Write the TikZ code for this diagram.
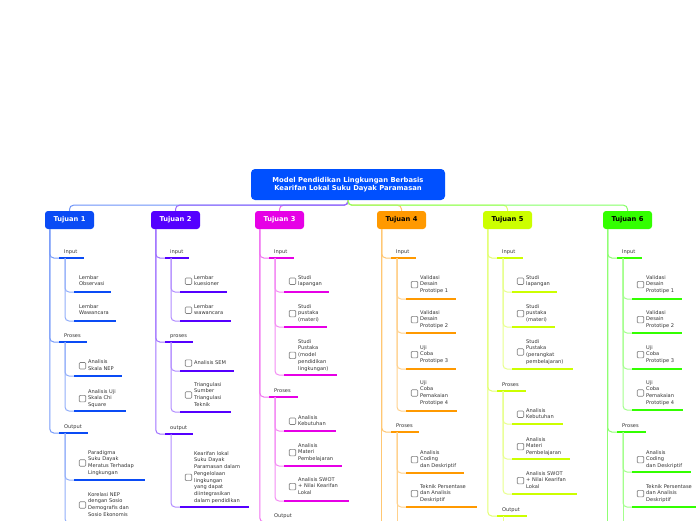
\documentclass[tikz,border=0pt]{standalone}
\usepackage{fontspec}
\newfontfamily\dv{DejaVu Sans}
\definecolor{c1}{HTML}{0A4BF5}
\definecolor{c2}{HTML}{5500FF}
\definecolor{c3}{HTML}{E600E6}
\definecolor{c4}{HTML}{FF9900}
\definecolor{c5}{HTML}{CCFF00}
\definecolor{c6}{HTML}{33FF00}
\definecolor{rootc}{HTML}{0050FF}
\definecolor{txt}{HTML}{333333}
\tikzset{
  vl/.style={draw=#1!55!white, line width=1pt, rounded corners=4pt},
  sl/.style={draw=#1!45!white, line width=1pt, rounded corners=4pt},
  topl/.style={draw=#1!60!white, line width=1pt, rounded corners=4pt},
  ul/.style={draw=#1, line width=2.6pt},
  lbl/.style={font=\dv\fontsize{5.1}{6.7}\selectfont, anchor=north west, yshift=2.85pt,
    inner sep=0pt, align=left, text=txt,
    execute at begin node={\rule{0pt}{4.3pt}},
    execute at end node={\rule[-1.3pt]{0pt}{1.3pt}}},
  cb/.style={draw=gray, line width=0.6pt, fill=white, rounded corners=1pt,
    minimum size=6.5pt, inner sep=0pt},
  tuj/.style={fill=#1, rounded corners=3pt, minimum width=49pt, minimum height=18pt,
    inner sep=0pt, font=\dv\bfseries\fontsize{6.7}{7.5}\selectfont},
  rootbox/.style={fill=rootc, rounded corners=4pt, minimum width=194pt, minimum height=31pt,
    inner sep=0pt, align=center, text=white, font=\dv\bfseries\fontsize{6.8}{8.3}\selectfont},
}
% group label: name, parent, L, ul y, ul xend, colour, text
\newcommand\grp[7]{%
  \coordinate (#1a) at (#3+14,#4);
  \coordinate (#1b) at (#5,#4);
  \draw[vl=#6] (#2) |- (#1a);
  \draw[ul=#6] (#1a) -- (#1b);
  \node[lbl] (#1t) at (#3+19,#4-6) {#7};
  \coordinate (#1v) at (#3+20,#4);
}
% item with checkbox: name, parent, L, first line y, ul y, ul xend, colour, text
\newcommand\itm[8]{%
  \coordinate (#1a) at (#3+29,#5);
  \coordinate (#1b) at (#6,#5);
  \draw[sl=#7] (#2) |- (#1a);
  \draw[ul=#7] (#1a) -- (#1b);
  \node[lbl] (#1t) at (#3+43,#4) {#8};
  \coordinate (#1x) at (#3+37.5,0);
  \node[cb] (#1c) at (#1x |- #1t.west) {};
}
% item without checkbox
\newcommand\itmn[8]{%
  \coordinate (#1a) at (#3+29,#5);
  \coordinate (#1b) at (#6,#5);
  \draw[sl=#7] (#2) |- (#1a);
  \draw[ul=#7] (#1a) -- (#1b);
  \node[lbl] (#1t) at (#3+34,#4) {#8};
}
\begin{document}
\begin{tikzpicture}[x=1pt,y=-1pt]
\useasboundingbox (0,0) rectangle (696,520);
\fill[white] (0,0) rectangle (696,520);
\clip (0,0) rectangle (696,520);
\coordinate (bot) at (0,540);

\node[rootbox] (root) at (348,184.5) {Model Pendidikan Lingkungan Berbasis\\ Kearifan Lokal Suku Dayak Paramasan};

\node[tuj=c1, text=white] (t1) at (69.5,220) {Tujuan 1};
\node[tuj=c2, text=white] (t2) at (175.5,220) {Tujuan 2};
\node[tuj=c3, text=white] (t3) at (279.5,220) {Tujuan 3};
\node[tuj=c4, text=black] (t4) at (401.5,220) {Tujuan 4};
\node[tuj=c5, text=black] (t5) at (507.5,220) {Tujuan 5};
\node[tuj=c6, text=black] (t6) at (627.5,220) {Tujuan 6};

\draw[topl=c3] (root.south) -- ++(0,5) -| (t3.north);
\draw[topl=c1] (root.south) -- ++(0,5) -| (t1.north);
\draw[topl=c2] (root.south) -- ++(0,5) -| (t2.north);
\draw[topl=c4] (root.south) -- ++(0,5) -| (t4.north);
\draw[topl=c5] (root.south) -- ++(0,5) -| (t5.north);
\draw[topl=c6] (root.south) -- ++(0,5) -| (t6.north);

\foreach \t in {1,...,6} {\coordinate (t\t v) at ([xshift=5pt]t\t.south west);}

% ---------- Tujuan 1
\grp{a1}{t1v}{45}{258}{84}{c1}{Input}
\itmn{a1i1}{a1v}{45}{278}{292}{111}{c1}{Lembar\\Observasi}
\itmn{a1i2}{a1v}{45}{307}{321}{116}{c1}{Lembar\\Wawancara}
\grp{a2}{t1v}{45}{342}{87}{c1}{Proses}
\itm{a2i1}{a2v}{45}{362.5}{376}{122}{c1}{Analisis\\Skala NEP}
\itm{a2i2}{a2v}{45}{392}{411}{126}{c1}{Analisis Uji\\Skala Chi\\Square}
\grp{a3}{t1v}{45}{433}{88}{c1}{Output}
\itm{a3i1}{a3v}{45}{453}{480}{145}{c1}{Paradigma\\Suku Dayak\\Meratus Terhadap\\Lingkungan}
\itm{a3i2}{a3v}{45}{495}{523}{140}{c1}{Korelasi NEP\\dengan Sosio\\Demografis dan\\Sosio Ekonomis}

% ---------- Tujuan 2
\grp{b1}{t2v}{151}{258}{189}{c2}{input}
\itm{b1i1}{b1v}{151}{278}{292}{227}{c2}{Lembar\\kuesioner}
\itm{b1i2}{b1v}{151}{307}{321}{231}{c2}{Lembar\\wawancara}
\grp{b2}{t2v}{151}{342}{193}{c2}{proses}
\itm{b2i1}{b2v}{151}{363}{371}{234}{c2}{Analisis SEM}
\itm{b2i2}{b2v}{151}{385}{412}{231}{c2}{Triangulasi\\Sumber\\Triangulasi\\Teknik}
\grp{b3}{t2v}{151}{434}{193}{c2}{output}
\itm{b3i1}{b3v}{151}{454}{507}{249}{c2}{Kearifan lokal\\Suku Dayak\\Paramasan dalam\\Pengelolaan\\lingkungan\\yang dapat\\diintegrasikan\\dalam pendidikan}

% ---------- Tujuan 3
\grp{c1g}{t3v}{255}{258}{294}{c3}{Input}
\itm{c1i1}{c1gv}{255}{278}{292}{329}{c3}{Studi\\lapangan}
\itm{c1i2}{c1gv}{255}{307}{327}{327}{c3}{Studi\\pustaka\\(materi)}
\itm{c1i3}{c1gv}{255}{342}{375}{337}{c3}{Studi\\Pustaka\\(model\\pendidikan\\lingkungan)}
\grp{c2g}{t3v}{255}{397}{298}{c3}{Proses}
\itm{c2i1}{c2gv}{255}{418}{431}{336}{c3}{Analisis\\Kebutuhan}
\itm{c2i2}{c2gv}{255}{446}{466}{342}{c3}{Analisis\\Materi\\Pembelajaran}
\itm{c2i3}{c2gv}{255}{480}{501}{349}{c3}{Analisis SWOT\\+ Nilai Kearifan\\Lokal}
\grp{c3g}{t3v}{255}{522}{298}{c3}{Output}

% ---------- Tujuan 4
\grp{d1}{t4v}{377}{258}{416}{c4}{Input}
\itm{d1i1}{d1v}{377}{278}{299}{456}{c4}{Validasi\\Desain\\Prototipe 1}
\itm{d1i2}{d1v}{377}{313}{333}{456}{c4}{Validasi\\Desain\\Prototipe 2}
\itm{d1i3}{d1v}{377}{348}{369}{456}{c4}{Uji\\Coba\\Prototipe 3}
\itm{d1i4}{d1v}{377}{383}{411}{457}{c4}{Uji\\Coba\\Pemakaian\\Prototipe 4}
\grp{d2}{t4v}{377}{432}{419}{c4}{Proses}
\itm{d2i1}{d2v}{377}{453}{473}{464}{c4}{Analisis\\Coding\\dan Deskriptif}
\itm{d2i2}{d2v}{377}{487}{507}{477}{c4}{Teknik Persentase\\dan Analisis\\Deskriptif}
\draw[vl=c4] (t4v) -- (t4v |- bot);
\draw[sl=c4] (d2v) -- (d2v |- bot);

% ---------- Tujuan 5
\grp{e1}{t5v}{483}{258}{523}{c5}{Input}
\itm{e1i1}{e1v}{483}{278}{292}{557}{c5}{Studi\\lapangan}
\itm{e1i2}{e1v}{483}{307}{327}{555}{c5}{Studi\\pustaka\\(materi)}
\itm{e1i3}{e1v}{483}{342}{369}{573}{c5}{Studi\\Pustaka\\(perangkat\\pembelajaran)}
\grp{e2}{t5v}{483}{391}{526}{c5}{Proses}
\itm{e2i1}{e2v}{483}{411}{424}{563}{c5}{Analisis\\Kebutuhan}
\itm{e2i2}{e2v}{483}{440}{459}{570}{c5}{Analisis\\Materi\\Pembelajaran}
\itm{e2i3}{e2v}{483}{474}{494}{577}{c5}{Analisis SWOT\\+ Nilai Kearifan\\Lokal}
\grp{e3}{t5v}{483}{516}{527}{c5}{Output}
\draw[sl=c5] (e3v) -- (e3v |- bot);

% ---------- Tujuan 6
\grp{f1}{t6v}{603}{258}{642}{c6}{Input}
\itm{f1i1}{f1v}{603}{278}{299}{682}{c6}{Validasi\\Desain\\Prototipe 1}
\itm{f1i2}{f1v}{603}{313}{333}{682}{c6}{Validasi\\Desain\\Prototipe 2}
\itm{f1i3}{f1v}{603}{348}{369}{682}{c6}{Uji\\Coba\\Prototipe 3}
\itm{f1i4}{f1v}{603}{383}{410}{683}{c6}{Uji\\Coba\\Pemakaian\\Prototipe 4}
\grp{f2}{t6v}{603}{432}{646}{c6}{Proses}
\itm{f2i1}{f2v}{603}{453}{472}{691}{c6}{Analisis\\Coding\\dan Deskriptif}
\itm{f2i2}{f2v}{603}{487}{507}{700}{c6}{Teknik Persentase\\dan Analisis\\Deskriptif}
\draw[vl=c6] (t6v) -- (t6v |- bot);
\draw[sl=c6] (f2v) -- (f2v |- bot);
\end{tikzpicture}
\end{document}
